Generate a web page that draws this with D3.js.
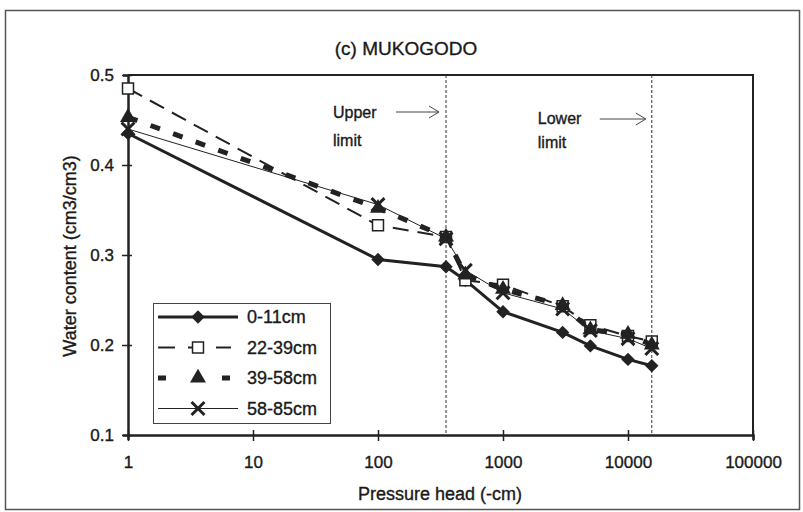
<!DOCTYPE html>
<html>
<head>
<meta charset="utf-8">
<script src="https://cdn.jsdelivr.net/npm/d3@7"></script>
<style>
  body { margin: 0; background: #fff; }
  text { font-family: "Liberation Sans", Arial, sans-serif; fill: #1a1a1a; stroke: #1a1a1a; stroke-width: 0.35px; }
</style>
</head>
<body>
<div id="plot"></div>
<script>
const pressure = [1, 100, 350, 500, 1000, 3000, 5000, 10000, 15500];
const depth0_11 = [0.435, 0.295, 0.287, 0.272, 0.237, 0.214, 0.199, 0.184, 0.177];
const depth22_39 = [0.485, 0.333, 0.320, 0.272, 0.267, 0.243, 0.222, 0.210, 0.204];
const depth39_58 = [0.453, 0.352, 0.320, 0.278, 0.262, 0.244, 0.217, 0.212, 0.200];
const depth58_85 = [0.440, 0.356, 0.318, 0.283, 0.258, 0.240, 0.216, 0.207, 0.196];
const seriesNames = ["0-11cm", "22-39cm", "39-58cm", "58-85cm"];
const xTicks = [1, 10, 100, 1000, 10000, 100000];
const yTicks = [0.1, 0.2, 0.3, 0.4, 0.5];
const upperLimit = 350;
const lowerLimit = 15500;

const W = 803, H = 512;
const margin = { top: 75, right: 50, bottom: 77, left: 128 };
const width = W - margin.left - margin.right;
const height = H - margin.top - margin.bottom;

const svg = d3.select("#plot").append("svg")
  .attr("width", W).attr("height", H);

// outer frame
svg.append("rect")
  .attr("x", 5.5).attr("y", 10.5).attr("width", 794).attr("height", 499)
  .attr("fill", "none").attr("stroke", "#555").attr("stroke-width", 1.5);

svg.append("text")
  .attr("x", 406).attr("y", 55)
  .attr("text-anchor", "middle")
  .attr("font-size", 19)
  .text("(c) MUKOGODO");

const g = svg.append("g").attr("transform", `translate(${margin.left},${margin.top})`);

const x = d3.scaleLog().domain([1, 100000]).range([0, width]);
const y = d3.scaleLinear().domain([0.1, 0.5]).range([height, 0]);

// plot frame (top + right)
g.append("path")
  .attr("d", `M0,0H${width}V${height}`)
  .attr("fill", "none").attr("stroke", "#222").attr("stroke-width", 2);

const xAxis = g.append("g")
  .attr("transform", `translate(0,${height})`)
  .call(d3.axisBottom(x).tickValues(xTicks).tickFormat(d3.format("d")).tickSize(5).tickPadding(16));
xAxis.select(".domain").attr("stroke", "#222").attr("stroke-width", 2.5);
xAxis.selectAll(".tick line").attr("y1", -5).attr("y2", 6).attr("stroke", "#222").attr("stroke-width", 1.5);
xAxis.selectAll(".tick text").attr("font-size", 17).attr("fill", "#1a1a1a")
  .style("font-family", "'Liberation Sans', Arial, sans-serif");

const yAxis = g.append("g")
  .call(d3.axisLeft(y).tickValues(yTicks).tickFormat(d3.format(".1f")).tickSize(5).tickPadding(9));
yAxis.select(".domain").attr("stroke", "#222").attr("stroke-width", 2.5);
yAxis.selectAll(".tick line").attr("x1", -6).attr("x2", 4).attr("stroke", "#222").attr("stroke-width", 1.5);
yAxis.selectAll(".tick text").attr("font-size", 17).attr("fill", "#1a1a1a")
  .style("font-family", "'Liberation Sans', Arial, sans-serif");

svg.append("text")
  .attr("x", 440).attr("y", 500)
  .attr("text-anchor", "middle").attr("font-size", 18)
  .text("Pressure head (-cm)");

svg.append("text")
  .attr("transform", "translate(76,256) rotate(-90)")
  .attr("text-anchor", "middle").attr("font-size", 18)
  .text("Water content (cm3/cm3)");

// limit lines
[upperLimit, lowerLimit].forEach(v => {
  g.append("line")
    .attr("x1", x(v)).attr("x2", x(v))
    .attr("y1", 0).attr("y2", height)
    .attr("stroke", "#333").attr("stroke-width", 1)
    .attr("stroke-dasharray", "3,2");
});

function arrow(x1, x2, yy) {
  g.append("path")
    .attr("d", `M${x1},${yy}H${x2}M${x2 - 10},${yy - 6}L${x2},${yy}L${x2 - 10},${yy + 6}`)
    .attr("fill", "none").attr("stroke", "#444").attr("stroke-width", 1);
}
g.append("text").attr("x", x(upperLimit) - 113).attr("y", 43).attr("font-size", 16).text("Upper");
g.append("text").attr("x", x(upperLimit) - 113).attr("y", 71).attr("font-size", 16).text("limit");
arrow(x(upperLimit) - 50, x(upperLimit) - 7, 37);
g.append("text").attr("x", x(lowerLimit) - 114).attr("y", 49).attr("font-size", 16).text("Lower");
g.append("text").attr("x", x(lowerLimit) - 114).attr("y", 73).attr("font-size", 16).text("limit");
arrow(x(lowerLimit) - 52, x(lowerLimit) - 6, 44);

const styles = [
  { values: depth0_11, width: 3, dash: null, legendDash: null, marker: "diamond" },
  { values: depth22_39, width: 2, dash: "16,9", legendDash: "17,13,6,22,15", marker: "square" },
  { values: depth39_58, width: 5, dash: "10,14", legendDash: "8,56,8", marker: "triangle" },
  { values: depth58_85, width: 1, dash: null, legendDash: null, marker: "x" }
];

const line = d3.line().x(d => x(d[0])).y(d => y(d[1]));

function drawMarker(sel, type) {
  if (type === "diamond") {
    sel.append("path").attr("d", d3.symbol(d3.symbolSquare, 90)())
      .attr("transform", "rotate(45)").attr("fill", "#222");
  } else if (type === "square") {
    sel.append("path").attr("d", d3.symbol(d3.symbolSquare, 120)())
      .attr("fill", "#fff").attr("stroke", "#222").attr("stroke-width", 1.5);
  } else if (type === "triangle") {
    sel.append("path").attr("d", d3.symbol(d3.symbolTriangle, 110)())
      .attr("fill", "#222");
  } else {
    sel.append("path").attr("d", d3.symbol(d3.symbolTimes, 110)())
      .attr("fill", "none").attr("stroke", "#222").attr("stroke-width", 3);
  }
}

styles.forEach(s => {
  const pts = pressure.map((p, i) => [p, s.values[i]]);
  g.append("path").datum(pts)
    .attr("fill", "none").attr("stroke", "#222")
    .attr("stroke-width", s.width)
    .attr("stroke-dasharray", s.dash)
    .attr("d", line);
  g.selectAll(null).data(pts).enter().append("g")
    .attr("transform", d => `translate(${x(d[0])},${y(d[1])})`)
    .each(function () { drawMarker(d3.select(this), s.marker); });
});

// legend
const lg = svg.append("g").attr("transform", "translate(153,303)");
lg.append("rect").attr("x", 0.5).attr("y", 0.5).attr("width", 177).attr("height", 120)
  .attr("fill", "#fff").attr("stroke", "#444").attr("stroke-width", 1);
styles.forEach((s, i) => {
  const yy = 14 + i * 30.5;
  lg.append("line").attr("x1", 5).attr("x2", 85).attr("y1", yy).attr("y2", yy)
    .attr("stroke", "#222").attr("stroke-width", s.width)
    .attr("stroke-dasharray", s.legendDash);
  const m = lg.append("g").attr("transform", `translate(45,${yy})`);
  drawMarker(m, s.marker);
  lg.append("text").attr("x", 94).attr("y", yy + 6).attr("font-size", 18).text(seriesNames[i]);
});
</script>
</body>
</html>
